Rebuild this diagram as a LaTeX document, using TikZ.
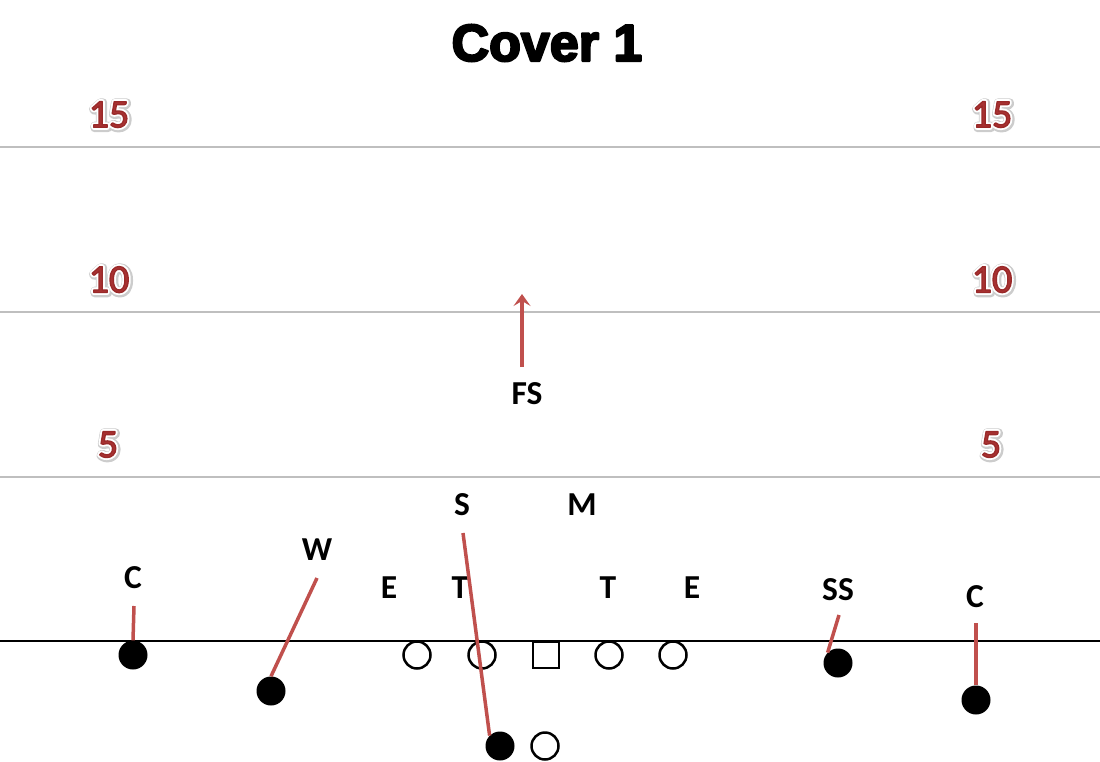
\documentclass[tikz,border=0pt]{standalone}
\usepackage{fontspec}
\setmainfont{Carlito}
\newfontfamily\titlefont{Liberation Sans}
\usetikzlibrary{arrows.meta}
\definecolor{rte}{HTML}{C0504D}
\definecolor{yardred}{HTML}{A83232}
\definecolor{yardline}{HTML}{BFBFBF}
% stroke-only text: #1 line width, #2 stroke colour (rgb triple), #3 text
\newcommand{\strk}[3]{\special{pdf:code q 1 Tr 1 j #1 w #2 RG}#3\special{pdf:code Q}}
% fill + stroke text
\newcommand{\fstrk}[3]{\special{pdf:code q 2 Tr 1 j #1 w #2 RG}#3\special{pdf:code Q}}
\newcommand{\yardtxt}[1]{%
  \makebox[0pt][l]{\raisebox{-0.8pt}{\hspace*{0.8pt}\strk{8}{0.8 0.8 0.8}{#1}}}%
  \makebox[0pt][l]{\strk{5}{1 1 1}{#1}}%
  \fstrk{1.3}{0.6 0.16 0.16}{#1}}
\tikzset{
  lbl/.style={font=\fontsize{33.5}{34}\selectfont\bfseries, inner sep=0pt, anchor=center},
  defp/.style={circle, fill=black, minimum size=29pt, inner sep=0pt},
  offp/.style={circle, draw=black, line width=2.5pt, fill=white, minimum size=27pt, inner sep=0pt},
  ctr/.style={rectangle, draw=black, line width=2.5pt, fill=white, minimum size=26pt, inner sep=0pt},
  rteline/.style={draw=rte, line width=3.5pt},
  yardl/.style={draw=yardline, line width=2pt},
  yardnum/.style={font=\fontsize{40}{40}\selectfont, inner sep=0pt, text=yardred}
}
\begin{document}
\begin{tikzpicture}[x=1pt,y=-1pt]
\useasboundingbox (0,0) rectangle (1100,762);
% title
\node[font=\titlefont\fontsize{52}{52}\selectfont\bfseries, inner sep=0pt] (title) at (547,43) {\fstrk{2.2}{0 0 0}{Cover 1}};
% yard lines
\coordinate (l15a) at (0,147); \coordinate (l15b) at (1100,147);
\coordinate (l10a) at (0,312); \coordinate (l10b) at (1100,312);
\coordinate (l5a) at (0,477); \coordinate (l5b) at (1100,477);
\coordinate (losa) at (0,641); \coordinate (losb) at (1100,641);
\draw[yardl] (l15a) -- (l15b);
\draw[yardl] (l10a) -- (l10b);
\draw[yardl] (l5a) -- (l5b);
\draw[black, line width=1.5pt] (losa) -- (losb);
% yard numbers
\node[yardnum] (n15L) at (109,115) {\yardtxt{15}};
\node[yardnum] (n15R) at (992,115) {\yardtxt{15}};
\node[yardnum] (n10L) at (109,280) {\yardtxt{10}};
\node[yardnum] (n10R) at (992,280) {\yardtxt{10}};
\node[yardnum] (n5L) at (108,445) {\yardtxt{5}};
\node[yardnum] (n5R) at (991,445) {\yardtxt{5}};
% labels
\node[lbl] (FS) at (527,394) {FS};
\node[lbl] (S) at (462,505) {S};
\node[lbl] (M) at (582,505) {M};
\node[lbl] (W) at (317,550) {W};
\node[lbl] (CL) at (133,578) {C};
\node[lbl] (E1) at (389,588) {E};
\node[lbl] (T1) at (460,588) {T};
\node[lbl] (T2) at (608,588) {T};
\node[lbl] (E2) at (692,588) {E};
\node[lbl] (SS) at (838,590) {SS};
\node[lbl] (CR) at (975,597) {C};
% offense
\node[offp] (o1) at (417,655) {};
\node[offp] (o2) at (482,655) {};
\node[ctr] (ctr) at (546,655) {};
\node[offp] (o4) at (609,655) {};
\node[offp] (o5) at (673,655) {};
\node[offp] (qb) at (545,746) {};
% defense players
\node[defp] (dCL) at (133,655) {};
\node[defp] (dW) at (271,691) {};
\node[defp] (dS) at (500,746) {};
\node[defp] (dSS) at (838,663) {};
\node[defp] (dCR) at (976,700) {};
% routes
\coordinate (fsTail) at (522,367);
\coordinate (fsTip) at (522,294);
\draw[rteline, -{Stealth[length=12pt,width=17pt,inset=5pt]}] (fsTail) -- (fsTip);
\coordinate (cLtop) at (134,606);
\draw[rteline] (cLtop) -- (dCL.north);
\coordinate (wTop) at (317,578);
\draw[rteline] (wTop) -- (dW.north);
\coordinate (sTop) at (463,533);
\draw[rteline] (sTop) -- (dS.north west);
\coordinate (ssTop) at (839,615);
\draw[rteline] (ssTop) -- (dSS.north west);
\coordinate (cRtop) at (976,623);
\draw[rteline] (cRtop) -- (dCR.north);
\end{tikzpicture}
\end{document}
